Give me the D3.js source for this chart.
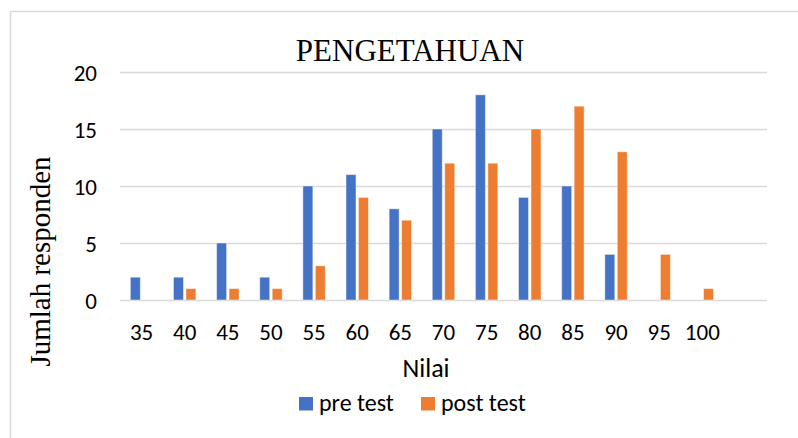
<!DOCTYPE html>
<html>
<head>
<meta charset="utf-8">
<script src="https://cdn.jsdelivr.net/npm/d3@7"></script>
<style>
  html, body { margin: 0; padding: 0; background: #fff; }
  svg { display: block; }
  .sans { font-family: Carlito, Lato, "Liberation Sans", sans-serif; }
  .serif { font-family: "Liberation Serif", "Times New Roman", serif; }
</style>
</head>
<body>
<svg id="chart" width="798" height="438"></svg>
<script>
const categories = ["35","40","45","50","55","60","65","70","75","80","85","90","95","100"];
const preTest  = [2, 2, 5, 2, 10, 11, 8, 15, 18, 9, 10, 4, 0, 0];
const postTest = [0, 1, 1, 1, 3, 9, 7, 12, 12, 15, 17, 13, 4, 1];
const seriesNames = ["pre test", "post test"];
const seriesColors = ["#4472C4", "#ED7D31"];
const yTicks = [0, 5, 10, 15, 20];
const chartTitle = "PENGETAHUAN";
const xTitle = "Nilai";
const yTitle = "Jumlah responden";

const svg = d3.select("#chart");
const plotLeft = 120, plotRight = 767, plotTop = 72, plotBottom = 300;

// outer chart border
svg.append("rect")
  .attr("x", 10.5).attr("y", 11.5)
  .attr("width", 820).attr("height", 460)
  .attr("fill", "none").attr("stroke", "#d9d9d9").attr("stroke-width", 1.5);

// x scale includes one trailing empty slot like the original
const xDomain = categories.concat(["__blank__"]);
const x0 = d3.scaleBand().domain(xDomain).range([plotLeft, plotRight]).paddingInner(0).paddingOuter(0);
const x1 = d3.scaleBand().domain(seriesNames).range([0, x0.bandwidth()]).paddingInner(0.2).paddingOuter(0.83);
const y = d3.scaleLinear().domain([0, 20]).range([plotBottom, plotTop]);

// gridlines via y axis
const yAxis = d3.axisLeft(y).tickValues(yTicks).tickSize(-(plotRight - plotLeft)).tickPadding(23);
const gy = svg.append("g").attr("transform", `translate(${plotLeft},0)`).call(yAxis);
gy.select(".domain").remove();
gy.selectAll(".tick line").attr("stroke", "#d9d9d9").attr("stroke-width", 1.3);
gy.selectAll(".tick text")
  .attr("class", "sans").attr("font-size", 23).attr("fill", "#000").attr("dy", "0.36em");

// bars
const rows = categories.map((c, i) => ({ cat: c, vals: [preTest[i], postTest[i]] }));
const groups = svg.append("g").selectAll("g").data(rows).join("g")
  .attr("transform", d => `translate(${x0(d.cat)},0)`);
groups.selectAll("rect")
  .data(d => d.vals.map((v, j) => ({ name: seriesNames[j], v, color: seriesColors[j] })).filter(e => e.v > 0))
  .join("rect")
  .attr("x", d => x1(d.name))
  .attr("width", x1.bandwidth())
  .attr("y", d => y(d.v))
  .attr("height", d => y(0) - y(d.v))
  .attr("fill", d => d.color)
  .attr("stroke", "#ffffff").attr("stroke-opacity", 0.45).attr("stroke-width", 1);

// x axis
const xAxis = d3.axisBottom(x0).tickSize(0).tickPadding(24).tickFormat(d => d === "__blank__" ? "" : d);
const gx = svg.append("g").attr("transform", `translate(0,${plotBottom})`).call(xAxis);
gx.select(".domain").remove();
gx.selectAll(".tick text").attr("class", "sans").attr("font-size", 23).attr("fill", "#000");

// title
svg.append("text").attr("class", "serif")
  .attr("x", 410).attr("y", 61).attr("text-anchor", "middle")
  .attr("font-size", 31).attr("fill", "#000").text(chartTitle);

// x axis title
svg.append("text").attr("class", "sans")
  .attr("x", 426).attr("y", 377).attr("text-anchor", "middle")
  .attr("font-size", 26).attr("fill", "#000").text(xTitle);

// y axis title
svg.append("text").attr("class", "serif")
  .attr("transform", "translate(50,261.5) rotate(-90)")
  .attr("text-anchor", "middle")
  .attr("font-size", 29).attr("fill", "#000").text(yTitle);

// legend
const legendX = [299, 421];
const lg = svg.append("g").selectAll("g").data(seriesNames).join("g")
  .attr("transform", (d, i) => `translate(${legendX[i]},397)`);
lg.append("rect").attr("width", 14).attr("height", 13.5).attr("fill", (d, i) => seriesColors[i]);
lg.append("text").attr("class", "sans")
  .attr("x", 20).attr("y", 14)
  .attr("font-size", 24).attr("fill", "#000").text(d => d);
</script>
</body>
</html>
